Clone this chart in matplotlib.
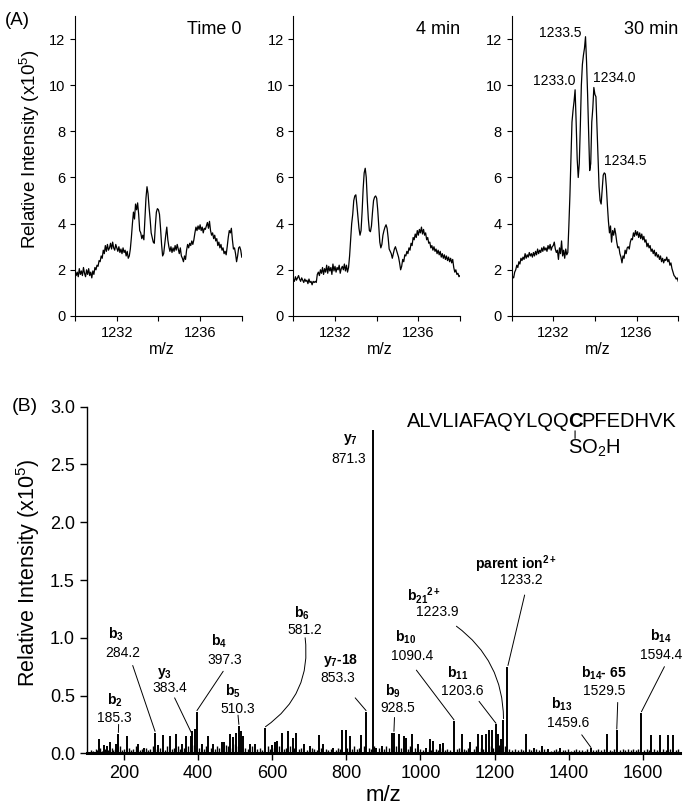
import numpy as np
import matplotlib.pyplot as plt

plt.rcParams['font.family'] = ['Liberation Sans', 'DejaVu Sans']
plt.rcParams['mathtext.fontset'] = 'custom'
plt.rcParams['mathtext.rm'] = 'Liberation Sans'
plt.rcParams['mathtext.bf'] = 'Liberation Sans:bold'
plt.rcParams['mathtext.it'] = 'Liberation Sans:italic'

# ---- panel A: zoom on the parent ion, intensity (x1e5), m/z from 1230 in 0.05 steps
mz_start = 1230.0
mz_step = 0.05

time0 = [
    1.95, 1.75, 1.9, 1.7, 2.05, 1.8, 1.95, 1.75, 2.1, 1.85, 1.7, 2.0, 1.8, 2.05, 1.75, 1.9, 1.65, 1.95, 1.8, 2.1,
    2.0, 2.2, 2.15, 2.4, 2.35, 2.6, 2.5, 2.85, 2.7, 3.05, 2.8, 3.1, 2.85, 2.95, 3.15, 2.9, 3.2, 2.95, 2.85, 3.1,
    2.95, 2.8, 3.0, 2.75, 2.9, 2.7, 2.95, 2.75, 2.85, 2.6, 2.8, 2.5, 2.6, 2.9, 3.4, 4.0, 4.5, 4.2, 4.85, 4.6,
    4.9, 4.4, 3.7, 3.6, 3.35, 3.5, 3.3, 4.2, 5.1, 5.6, 5.3, 4.7, 4.2, 3.6, 3.4, 3.2, 3.15, 3.9, 4.5, 4.65,
    4.6, 4.4, 3.8, 3.1, 2.6, 2.7, 3.1, 3.5, 3.85, 3.3, 3.0, 2.8, 3.0, 2.75, 2.95, 2.8, 3.05, 2.85, 3.1, 2.9,
    2.7, 2.95, 2.6, 2.5, 2.35, 2.6, 2.45, 2.85, 3.1, 2.95, 3.15, 3.05, 3.25, 3.1, 3.3, 3.6, 3.85, 3.7, 3.9, 3.75,
    3.95, 3.7, 3.85, 3.6, 3.8, 3.75, 3.9, 4.05, 3.8, 4.1, 3.7, 3.5, 3.6, 3.35, 3.5, 3.25, 3.35, 3.05, 3.2, 2.95,
    3.1, 2.85, 2.95, 2.7, 2.8, 2.65, 3.0, 3.4, 3.7, 3.6, 3.8, 3.3, 2.9, 2.95, 2.7, 2.35, 2.6, 2.95, 3.0, 2.85,
    2.55,
]

min4 = [
    1.6, 1.5, 1.7, 1.55, 1.65, 1.75, 1.6, 1.5, 1.65, 1.55, 1.45, 1.6, 1.5, 1.55, 1.4, 1.6, 1.45, 1.5, 1.35, 1.5,
    1.45, 1.5, 1.45, 1.8, 1.9, 1.75, 2.0, 1.85, 2.1, 1.8, 2.05, 1.9, 2.2, 1.85, 2.15, 1.95, 2.1, 1.8, 2.25, 1.95,
    2.15, 1.9, 2.1, 2.0, 2.2, 1.85, 2.05, 2.15, 2.0, 2.25, 1.95, 2.2, 1.9, 2.1, 2.6, 3.3, 4.0, 4.4, 5.0, 5.2,
    5.25, 4.8, 4.3, 3.8, 3.5, 3.7, 4.5, 5.5, 6.2, 6.4, 6.0, 5.0, 4.2, 3.7, 3.65, 3.9, 4.5, 5.0, 5.15, 5.2,
    5.1, 4.6, 3.9, 3.2, 2.95, 3.1, 3.5, 3.7, 3.85, 3.95, 3.8, 3.4, 2.9, 2.8, 2.7, 2.5, 2.7, 2.9, 3.0, 2.85,
    2.7, 2.55, 2.3, 2.0, 2.15, 2.45, 2.35, 2.65, 2.6, 2.8, 2.7, 2.95, 2.85, 3.15, 3.05, 3.4, 3.3, 3.55, 3.4, 3.7,
    3.5, 3.75, 3.6, 3.85, 3.55, 3.75, 3.5, 3.6, 3.3, 3.4, 3.15, 3.2, 2.95, 3.05, 2.85, 3.0, 2.8, 2.9, 2.7, 2.85,
    2.65, 2.8, 2.55, 2.7, 2.5, 2.65, 2.45, 2.6, 2.4, 2.55, 2.35, 2.5, 2.3, 2.45, 2.1, 1.9, 2.0, 1.8, 1.85, 1.7,
    1.75,
]

min30 = [
    1.55, 1.7, 1.65, 1.9, 2.0, 2.2, 2.1, 2.35, 2.25, 2.5, 2.4, 2.55, 2.45, 2.7, 2.5, 2.65, 2.55, 2.75, 2.6, 2.7,
    2.55, 2.75, 2.6, 2.8, 2.65, 2.9, 2.7, 2.85, 2.75, 2.95, 2.8, 3.0, 2.85, 2.95, 2.8, 3.05, 2.9, 3.1, 2.85, 3.0,
    3.05, 3.2, 2.9, 2.75, 2.85, 2.45, 2.95, 2.7, 3.25, 2.6, 2.85, 2.5, 2.9, 2.65, 2.75, 3.9, 5.2, 6.8, 8.4, 8.9,
    9.3, 9.8, 8.4, 6.8, 6.0, 6.6, 8.2, 10.0, 10.9, 11.3, 11.6, 12.1, 11.0, 9.6, 8.0, 6.3, 6.6, 8.4, 9.0, 9.9,
    9.6, 9.5, 8.2, 6.9, 5.6, 5.0, 4.85, 5.5, 6.1, 6.2, 6.15, 5.6, 4.8, 4.1, 3.6, 3.9, 3.2, 3.7, 3.5, 3.8,
    3.55, 3.2, 2.95, 3.0, 2.7, 2.55, 2.3, 2.6, 2.5, 2.85, 2.7, 2.95, 3.0, 2.9, 3.2, 3.35, 3.3, 3.6, 3.45, 3.7,
    3.5, 3.65, 3.4, 3.6, 3.35, 3.55, 3.3, 3.45, 3.2, 3.3, 3.0, 3.15, 2.95, 3.05, 2.8, 2.9, 2.7, 2.85, 2.6, 2.75,
    2.55, 2.65, 2.45, 2.6, 2.35, 2.5, 2.3, 2.45, 2.4, 2.55, 2.35, 2.45, 2.2, 2.3, 2.05, 1.9, 1.75, 1.7, 1.6, 1.65,
    1.5,
]

panel_titles = ['Time 0', '4 min', '30 min']
isotope_labels = ['1233.0', '1233.5', '1234.0', '1234.5']
isotope_label_pos = [(1232.05, 10.2), (1232.35, 12.25), (1234.95, 10.3), (1235.45, 6.7)]

# ---- panel B: MS/MS stick spectrum, intensity (x1e5)
peak_mz = [132, 146, 155, 162, 178, 183, 185.3, 209, 239, 254, 284.2, 293, 306, 324, 340, 356,
           369, 380, 383.4, 392, 397.3, 410, 428, 441, 464, 470, 486, 495, 503, 510.3, 515, 522,
           541, 554, 581.2, 599, 608, 614, 626, 642, 656, 665, 687, 701, 726, 737, 764, 789, 798,
           809, 841, 853.3, 871.3, 881, 895, 924, 928.5, 942, 955, 960, 978, 994, 1016, 1025, 1034,
           1052, 1061, 1090.4, 1111, 1133, 1155, 1166, 1176, 1185, 1193, 1203.6, 1208, 1217, 1223.9,
           1233.2, 1284, 1305, 1327, 1345, 1377, 1459.6, 1502, 1529.5, 1594.4, 1623, 1646, 1668, 1681]
peak_int = [0.12, 0.07, 0.06, 0.10, 0.08, 0.16, 0.17, 0.15, 0.08, 0.05, 0.18, 0.07, 0.16, 0.15, 0.17, 0.08,
            0.15, 0.15, 0.19, 0.21, 0.36, 0.08, 0.15, 0.08, 0.10, 0.10, 0.17, 0.14, 0.18, 0.24, 0.19, 0.15,
            0.08, 0.08, 0.22, 0.07, 0.10, 0.11, 0.18, 0.19, 0.13, 0.18, 0.08, 0.06, 0.16, 0.08, 0.05, 0.20, 0.20,
            0.15, 0.16, 0.36, 2.80, 0.05, 0.06, 0.18, 0.18, 0.17, 0.15, 0.13, 0.17, 0.08, 0.05, 0.12, 0.11,
            0.08, 0.09, 0.28, 0.17, 0.10, 0.17, 0.16, 0.17, 0.20, 0.20, 0.25, 0.17, 0.12, 0.29,
            0.75, 0.17, 0.05, 0.06, 0.04, 0.05, 0.05, 0.17, 0.20, 0.35, 0.16, 0.16, 0.16, 0.16]

noise_mz = [112, 118, 124, 128, 137, 141, 150, 158, 167, 171, 175, 190, 196, 201, 214, 220, 226, 232,
            244, 249, 260, 266, 271, 278, 289, 298, 311, 316, 329, 334, 345, 351, 362, 374, 388, 404,
            415, 421, 434, 447, 452, 458, 476, 481, 491, 499, 507, 528, 534, 547, 560, 566, 572, 588,
            593, 604, 619, 633, 638, 649, 660, 672, 679, 693, 708, 714, 720, 732, 744, 751, 758, 771,
            778, 784, 803, 816, 822, 829, 835, 847, 860, 866, 876, 888, 902, 908, 915, 935, 948, 967,
            972, 985, 999, 1006, 1022, 1028, 1041, 1046, 1058, 1066, 1071, 1079, 1098, 1104, 1117, 1124,
            1129, 1145, 1150, 1163, 1170, 1190, 1196, 1212, 1229, 1240, 1248, 1256, 1262, 1270, 1277,
            1292, 1298, 1312, 1319, 1334, 1340, 1352, 1360, 1366, 1372, 1384, 1391, 1398, 1405, 1413,
            1420, 1428, 1436, 1443, 1450, 1466, 1473, 1480, 1487, 1494, 1510, 1517, 1522, 1538, 1545,
            1552, 1560, 1567, 1574, 1581, 1588, 1604, 1611, 1617, 1630, 1637, 1655, 1661, 1674, 1688, 1694]
noise_int = [0.03, 0.02, 0.04, 0.03, 0.05, 0.02, 0.04, 0.03, 0.05, 0.03, 0.04, 0.06, 0.03, 0.04, 0.05, 0.03,
             0.04, 0.06, 0.03, 0.04, 0.05, 0.03, 0.04, 0.06, 0.04, 0.05, 0.03, 0.06, 0.04, 0.05, 0.06, 0.04,
             0.05, 0.06, 0.07, 0.05, 0.04, 0.06, 0.05, 0.04, 0.06, 0.05, 0.07, 0.06, 0.05, 0.08, 0.06, 0.05,
             0.04, 0.06, 0.04, 0.05, 0.03, 0.06, 0.04, 0.05, 0.06, 0.04, 0.05, 0.06, 0.05, 0.04, 0.05, 0.03,
             0.05, 0.04, 0.03, 0.05, 0.04, 0.03, 0.04, 0.03, 0.05, 0.04, 0.05, 0.04, 0.06, 0.04, 0.05, 0.06,
             0.05, 0.04, 0.06, 0.05, 0.04, 0.06, 0.05, 0.06, 0.05, 0.04, 0.06, 0.05, 0.04, 0.03, 0.04, 0.03,
             0.04, 0.03, 0.05, 0.03, 0.04, 0.03, 0.04, 0.05, 0.04, 0.03, 0.05, 0.04, 0.06, 0.05, 0.04, 0.06,
             0.05, 0.07, 0.06, 0.04, 0.03, 0.04, 0.03, 0.04, 0.03, 0.04, 0.03, 0.04, 0.03, 0.04, 0.03, 0.02,
             0.03, 0.04, 0.02, 0.03, 0.03, 0.04, 0.02, 0.03, 0.04, 0.03, 0.03, 0.02, 0.04, 0.03, 0.03, 0.04,
             0.03, 0.04, 0.03, 0.02, 0.04, 0.03, 0.04, 0.03, 0.04, 0.03, 0.04, 0.03, 0.04, 0.03, 0.04, 0.03,
             0.04, 0.03, 0.04, 0.03, 0.04, 0.03, 0.04]

# ion name, m/z text, name pos, value pos, leader start, leader end, curvature
ion_names = [r'$\mathbf{b_2}$', r'$\mathbf{b_3}$', r'$\mathbf{y_3}$', r'$\mathbf{b_4}$', r'$\mathbf{b_5}$',
             r'$\mathbf{b_6}$', r'$\mathbf{y_7}$', r'$\mathbf{y_7}$-18', r'$\mathbf{b_9}$', r'$\mathbf{b_{10}}$',
             r'$\mathbf{b_{11}}$', r'$\mathbf{b_{21}}{}^{\mathbf{2+}}$', r'parent ion$^{\mathbf{2+}}$',
             r'$\mathbf{b_{13}}$', r'$\mathbf{b_{14}}$- 65', r'$\mathbf{b_{14}}$']
ion_values = ['185.3', '284.2', '383.4', '397.3', '510.3', '581.2', '871.3', '853.3', '928.5', '1090.4',
              '1203.6', '1223.9', '1233.2', '1459.6', '1529.5', '1594.4']
name_pos = [(175, 0.46), (179, 1.03), (310, 0.69), (457, 0.97), (495, 0.54), (680, 1.21), (811, 2.72),
            (784, 0.80), (926, 0.54), (960, 1.00), (1099, 0.69), (1010, 1.37), (1257, 1.64), (1381, 0.42),
            (1493, 0.69), (1647, 1.01)]
value_pos = [(175, 0.305), (196, 0.87), (325, 0.565), (472, 0.81), (506, 0.38), (689, 1.07), (806, 2.55),
             (778, 0.65), (939, 0.39), (978, 0.84), (1113, 0.54), (1045, 1.22), (1271, 1.50), (1397, 0.26),
             (1496, 0.54), (1650, 0.85)]
leader_from = [(186, 0.25), (224, 0.76), (337, 0.48), (468, 0.71), (508, 0.33), (689, 1.0), None,
               (824, 0.48), (930, 0.31), (989, 0.72), (1158, 0.45), (1097, 1.1), (1281, 1.37), (1435, 0.16),
               (1532, 0.44), (1658, 0.75)]
leader_to = [(185.3, 0.18), (284.2, 0.19), (383.4, 0.17), (397.3, 0.37), (510.3, 0.25), (582, 0.23), None,
             (853.3, 0.37), (928.5, 0.19), (1090.4, 0.29), (1203.6, 0.26), (1224, 0.30), (1236, 0.76),
             (1460, 0.05), (1529.5, 0.21), (1596, 0.36)]
leader_rad = [0, 0, 0, 0, 0, -0.3, 0, 0, 0, 0, 0, -0.25, 0, 0, 0, 0]

fig = plt.figure(figsize=(6.83, 8.05), dpi=100)

top_axes = []
for i, trace in enumerate([time0, min4, min30]):
    ax = fig.add_axes([0.110 + i * 0.3195, 0.6075, 0.244, 0.3727])
    mz = mz_start + mz_step * np.arange(len(trace))
    ax.plot(mz, trace, color='k', lw=0.9)
    ax.set_xlim(1230, 1238)
    ax.set_ylim(0, 13)
    ax.set_xticks([1232, 1236])
    ax.set_xticks([1230, 1234, 1238], minor=True)
    ax.set_yticks([0, 2, 4, 6, 8, 10, 12])
    ax.tick_params(which='both', direction='out', length=3.5, width=0.8, labelsize=10.5)
    for s in ['top', 'right']:
        ax.spines[s].set_visible(False)
    ax.set_xlabel('m/z', fontsize=11.5)
    ax.xaxis.set_label_coords(0.52, -0.088)
    ax.text(1238, 12.4, panel_titles[i], ha='right', va='center', fontsize=13)
    top_axes.append(ax)

top_axes[0].set_ylabel(r'Relative Intensity (x10$^5$)', fontsize=13.5)
top_axes[0].yaxis.set_label_coords(-0.20, 0.555)
for lab, (x, y) in zip(isotope_labels, isotope_label_pos):
    top_axes[2].text(x, y, lab, ha='center', va='center', fontsize=10)

fig.text(0.025, 0.975, '(A)', ha='center', va='center', fontsize=13.5)

# ---- panel B
axb = fig.add_axes([0.127, 0.0642, 0.8686, 0.4306])
axb.vlines(noise_mz, 0, noise_int, color='k', lw=1.0)
axb.vlines(peak_mz, 0, peak_int, color='k', lw=1.4)
axb.set_xlim(100, 1700)
axb.set_ylim(0, 3.0)
axb.set_xticks([200, 400, 600, 800, 1000, 1200, 1400, 1600])
axb.set_yticks([0, 0.5, 1.0, 1.5, 2.0, 2.5, 3.0])
axb.set_yticklabels(['0.0', '0.5', '1.0', '1.5', '2.0', '2.5', '3.0'])
axb.tick_params(direction='out', length=5, width=1.0, labelsize=13)
for s in ['top', 'right']:
    axb.spines[s].set_visible(False)
axb.spines['bottom'].set_linewidth(2.2)
axb.spines['left'].set_linewidth(1.0)
axb.set_xlabel('m/z', fontsize=16)
axb.xaxis.set_label_coords(0.50, -0.09)
axb.set_ylabel(r'Relative Intensity (x10$^5$)', fontsize=15.5)
axb.yaxis.set_label_coords(-0.076, 0.52)

for i in range(len(ion_names)):
    nx, ny = name_pos[i]
    vx, vy = value_pos[i]
    axb.text(nx, ny, ion_names[i], ha='center', va='center', fontsize=10, fontweight='bold')
    axb.text(vx, vy, ion_values[i], ha='center', va='center', fontsize=10)
    if leader_from[i] is not None:
        axb.annotate('', xy=leader_to[i], xytext=leader_from[i],
                     arrowprops=dict(arrowstyle='-', lw=0.7, color='k', shrinkA=0, shrinkB=0,
                                     connectionstyle='arc3,rad=%s' % leader_rad[i]))

# peptide sequence with the oxidised cysteine
cys = axb.text(1417, 2.87, 'C', ha='center', va='center', fontsize=14.5, fontweight='bold')
axb.annotate('ALVLIAFAQYLQQ', xy=(0.1, 0), xycoords=cys, ha='right', va='bottom', fontsize=14.5)
axb.annotate('PFEDHVK', xy=(0.96, 0), xycoords=cys, ha='left', va='bottom', fontsize=14.5)
axb.annotate('', xy=(0.5, 0.02), xycoords=cys, xytext=(0.5, -0.38), textcoords=cys,
             arrowprops=dict(arrowstyle='-', lw=0.8, color='k', shrinkA=0, shrinkB=0))
axb.annotate('SO$_2$H', xy=(0, -0.36), xycoords=cys, ha='left', va='top', fontsize=14.5)

fig.text(0.037, 0.495, '(B)', ha='center', va='center', fontsize=14)

fig.savefig('out.png', dpi=100)
